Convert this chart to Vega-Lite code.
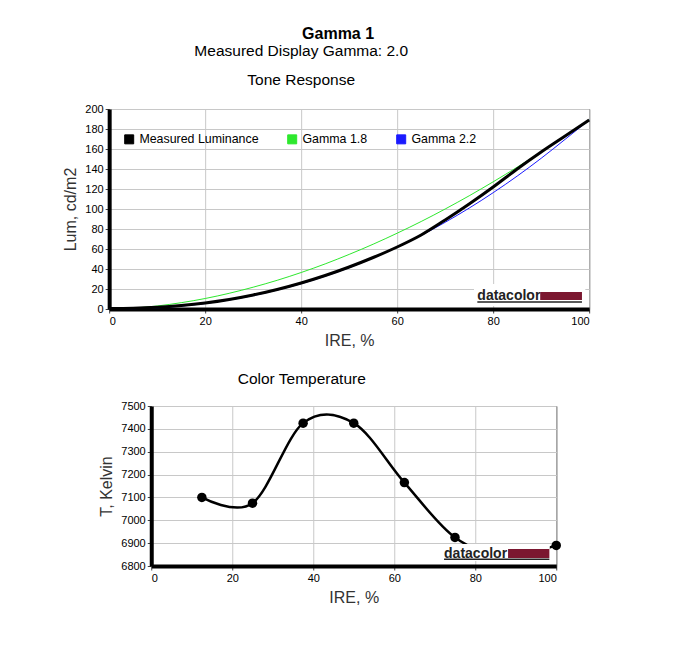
{
  "$schema": "https://vega.github.io/schema/vega-lite/v6.json",
  "padding": {"left": 62, "top": 25, "right": 20, "bottom": 20},
  "title": {"text": "Gamma 1", "fontSize": 16, "fontWeight": "bold", "dx": 5, "offset": 2},
  "datasets": {
    "tone": [
      {"series": "Measured Luminance", "ire": 0, "lum": 0.5},
      {"series": "Measured Luminance", "ire": 5, "lum": 0.8},
      {"series": "Measured Luminance", "ire": 10, "lum": 1.8},
      {"series": "Measured Luminance", "ire": 15, "lum": 3.5},
      {"series": "Measured Luminance", "ire": 20, "lum": 6},
      {"series": "Measured Luminance", "ire": 25, "lum": 9.5},
      {"series": "Measured Luminance", "ire": 30, "lum": 14},
      {"series": "Measured Luminance", "ire": 35, "lum": 19.5},
      {"series": "Measured Luminance", "ire": 40, "lum": 26},
      {"series": "Measured Luminance", "ire": 45, "lum": 33.5},
      {"series": "Measured Luminance", "ire": 50, "lum": 42},
      {"series": "Measured Luminance", "ire": 55, "lum": 51.5},
      {"series": "Measured Luminance", "ire": 60, "lum": 62},
      {"series": "Measured Luminance", "ire": 65, "lum": 74},
      {"series": "Measured Luminance", "ire": 70, "lum": 89},
      {"series": "Measured Luminance", "ire": 75, "lum": 105},
      {"series": "Measured Luminance", "ire": 80, "lum": 122},
      {"series": "Measured Luminance", "ire": 85, "lum": 140},
      {"series": "Measured Luminance", "ire": 90, "lum": 157},
      {"series": "Measured Luminance", "ire": 95, "lum": 173},
      {"series": "Measured Luminance", "ire": 100, "lum": 189},
      {"series": "Gamma 1.8", "ire": 0, "lum": 0},
      {"series": "Gamma 1.8", "ire": 5, "lum": 0.9},
      {"series": "Gamma 1.8", "ire": 10, "lum": 3.0},
      {"series": "Gamma 1.8", "ire": 15, "lum": 6.3},
      {"series": "Gamma 1.8", "ire": 20, "lum": 10.5},
      {"series": "Gamma 1.8", "ire": 25, "lum": 15.7},
      {"series": "Gamma 1.8", "ire": 30, "lum": 21.8},
      {"series": "Gamma 1.8", "ire": 35, "lum": 28.7},
      {"series": "Gamma 1.8", "ire": 40, "lum": 36.5},
      {"series": "Gamma 1.8", "ire": 45, "lum": 45.1},
      {"series": "Gamma 1.8", "ire": 50, "lum": 54.6},
      {"series": "Gamma 1.8", "ire": 55, "lum": 64.8},
      {"series": "Gamma 1.8", "ire": 60, "lum": 75.8},
      {"series": "Gamma 1.8", "ire": 65, "lum": 87.5},
      {"series": "Gamma 1.8", "ire": 70, "lum": 100},
      {"series": "Gamma 1.8", "ire": 75, "lum": 113.2},
      {"series": "Gamma 1.8", "ire": 80, "lum": 127.2},
      {"series": "Gamma 1.8", "ire": 85, "lum": 141.8},
      {"series": "Gamma 1.8", "ire": 90, "lum": 157.2},
      {"series": "Gamma 1.8", "ire": 95, "lum": 173.2},
      {"series": "Gamma 1.8", "ire": 100, "lum": 189},
      {"series": "Gamma 2.2", "ire": 0, "lum": 0},
      {"series": "Gamma 2.2", "ire": 5, "lum": 0.3},
      {"series": "Gamma 2.2", "ire": 10, "lum": 1.2},
      {"series": "Gamma 2.2", "ire": 15, "lum": 2.9},
      {"series": "Gamma 2.2", "ire": 20, "lum": 5.5},
      {"series": "Gamma 2.2", "ire": 25, "lum": 9.0},
      {"series": "Gamma 2.2", "ire": 30, "lum": 13.4},
      {"series": "Gamma 2.2", "ire": 35, "lum": 18.9},
      {"series": "Gamma 2.2", "ire": 40, "lum": 25.3},
      {"series": "Gamma 2.2", "ire": 45, "lum": 32.8},
      {"series": "Gamma 2.2", "ire": 50, "lum": 41.3},
      {"series": "Gamma 2.2", "ire": 55, "lum": 51.0},
      {"series": "Gamma 2.2", "ire": 60, "lum": 61.8},
      {"series": "Gamma 2.2", "ire": 65, "lum": 73.6},
      {"series": "Gamma 2.2", "ire": 70, "lum": 86.7},
      {"series": "Gamma 2.2", "ire": 75, "lum": 100.9},
      {"series": "Gamma 2.2", "ire": 80, "lum": 116.3},
      {"series": "Gamma 2.2", "ire": 85, "lum": 132.9},
      {"series": "Gamma 2.2", "ire": 90, "lum": 150.7},
      {"series": "Gamma 2.2", "ire": 95, "lum": 169.7},
      {"series": "Gamma 2.2", "ire": 100, "lum": 189}
    ],
    "temp": [
      {"ire": 12.5, "kelvin": 7100},
      {"ire": 25, "kelvin": 7075},
      {"ire": 37.5, "kelvin": 7425},
      {"ire": 50, "kelvin": 7425},
      {"ire": 62.5, "kelvin": 7165},
      {"ire": 75, "kelvin": 6925},
      {"ire": 87.5, "kelvin": 6845},
      {"ire": 100, "kelvin": 6890}
    ]
  },
  "vconcat": [
    {
      "width": 480,
      "height": 200,
      "title": {
        "text": "Measured Display Gamma: 2.0",
        "subtitle": "Tone Response",
        "fontSize": 15.5,
        "subtitleFontSize": 15.5,
        "subtitlePadding": 13,
        "dx": -48,
        "offset": 15
      },
      "layer": [
        {
          "data": {"name": "tone"},
          "transform": [{"filter": "datum.series != 'Measured Luminance'"}],
          "mark": {"type": "line", "strokeWidth": 1, "interpolate": "monotone"},
          "encoding": {
            "x": {"field": "ire", "type": "quantitative", "title": "IRE, %",
                  "scale": {"domain": [0, 100]}, "axis": {"values": [0, 20, 40, 60, 80, 100], "tickCount": 20}},
            "y": {"field": "lum", "type": "quantitative", "title": "Lum, cd/m2",
                  "scale": {"domain": [0, 200]},
                  "axis": {"values": [0, 20, 40, 60, 80, 100, 120, 140, 160, 180, 200], "tickCount": 20}},
            "color": {
              "field": "series", "type": "nominal",
              "scale": {"domain": ["Measured Luminance", "Gamma 1.8", "Gamma 2.2"],
                        "range": ["#000000", "#2ee82e", "#1a1aff"]},
              "legend": {
                "title": null,
                "orient": "none",
                "legendX": 14,
                "legendY": 24,
                "direction": "horizontal",
                "symbolType": "square",
                "symbolSize": 81,
                "symbolStrokeWidth": 1,
                "labelFontSize": 12.4,
                "labelColor": "black",
                "labelOffset": 4,
                "columnPadding": 26,
                "encode": {
                  "symbols": {"update": {"fill": {"scale": "color", "field": "value"}, "stroke": {"value": "black"}, "fillOpacity": {"value": 1}}}
                }
              }
            }
          }
        },
        {
          "data": {"name": "tone"},
          "transform": [{"filter": "datum.series == 'Measured Luminance'"}],
          "mark": {"type": "line", "strokeWidth": 3, "interpolate": "monotone"},
          "encoding": {
            "x": {"field": "ire", "type": "quantitative"},
            "y": {"field": "lum", "type": "quantitative"},
            "color": {"field": "series", "type": "nominal"}
          }
        },
        {
          "data": {"values": [{}]},
          "mark": {"type": "text", "text": "M", "fontSize": 11, "opacity": 0, "align": "left", "dx": 5},
          "encoding": {"x": {"datum": 100}, "y": {"datum": 100}}
        },
        {
          "data": {"values": [{}]},
          "mark": {"type": "rect", "fill": "white"},
          "encoding": {"x": {"datum": 76}, "x2": {"datum": 99.2}, "y": {"datum": 3}, "y2": {"datum": 25}}
        },
        {
          "data": {"values": [{}]},
          "mark": {"type": "text", "text": "datacolor", "align": "left", "baseline": "alphabetic",
                   "font": "Liberation Sans", "fontWeight": "bold", "fontSize": 14, "color": "#222"},
          "encoding": {"x": {"datum": 76.7}, "y": {"datum": 9}}
        },
        {
          "data": {"values": [{}]},
          "mark": {"type": "rect", "fill": "#7b1730"},
          "encoding": {"x": {"datum": 89.8}, "x2": {"datum": 98.5}, "y": {"datum": 9}, "y2": {"datum": 17}}
        },
        {
          "data": {"values": [{}]},
          "mark": {"type": "rule", "color": "#222", "strokeWidth": 1.5},
          "encoding": {"x": {"datum": 76.7}, "x2": {"datum": 98.5}, "y": {"datum": 7}}
        }
      ]
    },
    {
      "width": 405,
      "height": 160,
      "title": {"text": "Color Temperature", "fontSize": 15.5, "dx": -52, "offset": 13},
      "layer": [
        {
          "data": {"name": "temp"},
          "mark": {"type": "line", "color": "black", "strokeWidth": 2.5, "interpolate": "cardinal"},
          "encoding": {
            "x": {"field": "ire", "type": "quantitative", "title": "IRE, %",
                  "scale": {"domain": [0, 100]}, "axis": {"values": [0, 20, 40, 60, 80, 100], "tickCount": 20}},
            "y": {"field": "kelvin", "type": "quantitative", "title": "T, Kelvin",
                  "scale": {"domain": [6800, 7500]},
                  "axis": {"values": [6800, 6900, 7000, 7100, 7200, 7300, 7400, 7500], "format": "d", "tickCount": 20}}
          }
        },
        {
          "data": {"name": "temp"},
          "mark": {"type": "point", "filled": true, "color": "black", "size": 90, "opacity": 1},
          "encoding": {
            "x": {"field": "ire", "type": "quantitative"},
            "y": {"field": "kelvin", "type": "quantitative"}
          }
        },
        {
          "data": {"values": [{}]},
          "mark": {"type": "rect", "fill": "white"},
          "encoding": {"x": {"datum": 72}, "x2": {"datum": 98.4}, "y": {"datum": 6822}, "y2": {"datum": 6896}}
        },
        {
          "data": {"values": [{}]},
          "mark": {"type": "text", "text": "datacolor", "align": "left", "baseline": "alphabetic",
                   "font": "Liberation Sans", "fontWeight": "bold", "fontSize": 14, "color": "#222"},
          "encoding": {"x": {"datum": 72.3}, "y": {"datum": 6836}}
        },
        {
          "data": {"values": [{}]},
          "mark": {"type": "rect", "fill": "#7b1730"},
          "encoding": {"x": {"datum": 88.1}, "x2": {"datum": 98.3}, "y": {"datum": 6835}, "y2": {"datum": 6874}}
        },
        {
          "data": {"values": [{}]},
          "mark": {"type": "rule", "color": "#222", "strokeWidth": 1.5},
          "encoding": {"x": {"datum": 72.3}, "x2": {"datum": 98.3}, "y": {"datum": 6829}}
        }
      ]
    }
  ],
  "center": true,
  "spacing": 22,
  "config": {
    "font": "Liberation Sans",
    "view": {"stroke": "black", "strokeWidth": 1},
    "title": {"font": "Liberation Sans", "fontWeight": "normal", "color": "black", "anchor": "middle",
              "subtitleFont": "Liberation Sans", "subtitleColor": "black"},
    "axis": {
      "labelFont": "Liberation Sans",
      "labelFontSize": 11,
      "labelColor": "black",
      "labelOverlap": false,
      "titleFont": "Liberation Sans",
      "titleFontSize": 16,
      "titleFontWeight": "normal",
      "titleColor": "#333",
      "titlePadding": 6,
      "domainColor": "black",
      "domainWidth": 4,
      "tickColor": "#444",
      "tickSize": 4,
      "gridColor": "#c8c8c8",
      "gridOpacity": 1,
      "labelPadding": 2
    },
    "legend": {"labelFont": "Liberation Sans"}
  }
}
